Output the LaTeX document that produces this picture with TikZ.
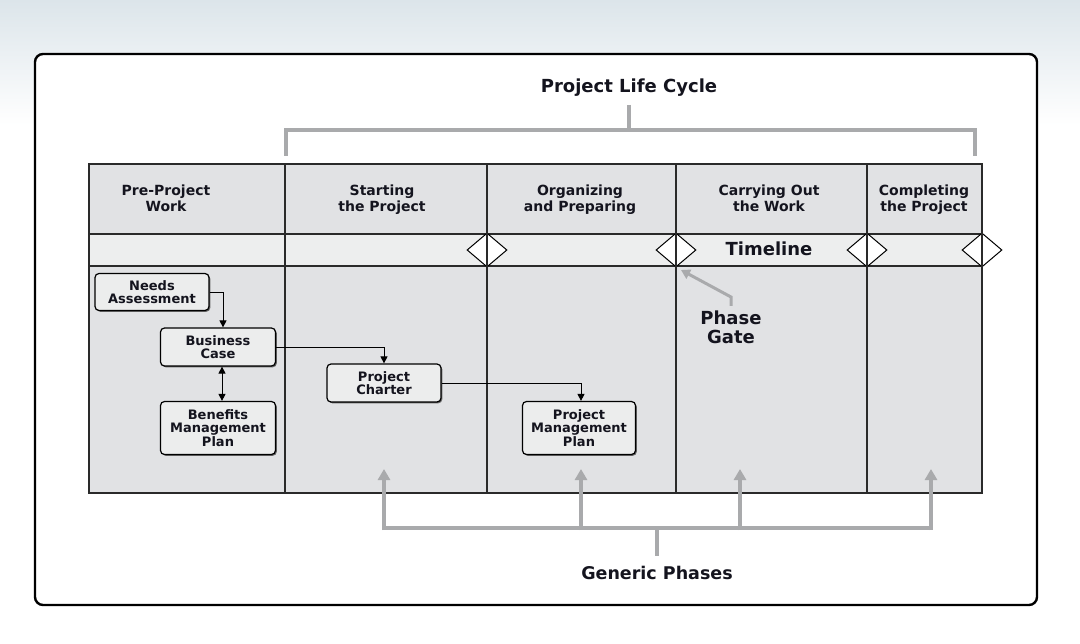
\documentclass[tikz,border=0pt]{standalone}
\usepackage{fontspec}
\setmainfont{DejaVu Sans}
\usetikzlibrary{arrows.meta,shadows,calc,shapes.geometric}
\definecolor{cell}{HTML}{E1E2E4}
\definecolor{band}{HTML}{EDEEEE}
\definecolor{boxfill}{HTML}{ECEDED}
\definecolor{guide}{HTML}{A9AAAC}
\definecolor{ink}{HTML}{14141E}
\definecolor{grid}{HTML}{2A2A2A}
\definecolor{sky}{HTML}{DCE5EA}
\begin{document}
\begin{tikzpicture}[x=1pt,y=-1pt,
  hdr/.style={font=\fontsize{14}{16}\selectfont\bfseries, align=center, text=ink, anchor=north, inner sep=0pt},
  big/.style={font=\fontsize{18}{19}\selectfont\bfseries, align=center, text=ink},
  box/.style={draw=black, line width=1.2pt, rounded corners=4pt, fill=boxfill,
    drop shadow={shadow xshift=1.3pt,shadow yshift=-1.3pt,fill=black!60,opacity=1},
    font=\fontsize{13}{13.5}\selectfont\bfseries, align=center, minimum width=114pt,
    inner sep=1pt, text=ink},
  conn/.style={-{Triangle[length=7pt,width=7pt]}, line width=0.9pt},
  dconn/.style={{Triangle[length=7pt,width=7pt]}-{Triangle[length=7pt,width=7pt]}, line width=0.9pt},
  guideline/.style={draw=guide, line width=4.5pt},
  guidearrow/.style={guideline, -{Triangle[length=11pt,width=12pt]}},
  gate/.style={diamond, draw=black, fill=white, minimum width=40pt, minimum height=34pt, inner sep=0pt, line width=1pt},
  gridline/.style={draw=grid, line width=1.1pt}
]
\useasboundingbox (0,0) rectangle (1080,644);
% background
\shade[top color=sky, bottom color=white] (0,0) rectangle (1080,125);
\fill[white] (0,125) rectangle (1080,644);
% frame
\draw[line width=2.4pt, rounded corners=8pt, fill=white] (35,54) rectangle (1037,605);

% title and bracket
\node[big] (title) at (629,88) {Project Life Cycle};
\coordinate (tl) at (286,156);
\coordinate (tr) at (975,156);
\coordinate (tm) at (629,105);
\draw[guideline] (tl) -- (286,130) -- (975,130) -- (tr);
\draw[guideline] (tm) -- (629,130);

% table
\fill[cell] (89,164) rectangle (982,493);
\fill[band] (89,234) rectangle (982,266);
\draw[gridline] (89,234) -- (982,234);
\draw[gridline] (89,266) -- (982,266);

% gates
\node[gate] (g1) at (487,250) {};
\node[gate] (g2) at (676,250) {};
\node[gate] (g3) at (867,250) {};
\node[gate] (g4) at (982,250) {};

\draw[gridline] (89,164) rectangle (982,493);
\foreach \x in {285,487,676,867} \draw[gridline] (\x,164) -- (\x,493);

% headers
\node[hdr] (h1) at (166,185) {Pre-Project\\Work};
\node[hdr] (h2) at (382,185) {Starting\\the Project};
\node[hdr] (h3) at (580,185) {Organizing\\and Preparing};
\node[hdr] (h4) at (769,185) {Carrying Out\\the Work};
\node[hdr] (h5) at (924,185) {Completing\\the Project};

\node[big] (tline) at (769,249) {Timeline};

% boxes
\node[box, minimum height=37pt] (na) at (152,292) {Needs\\Assessment};
\node[box, minimum height=38pt, minimum width=115pt] (bc) at (218,347) {Business\\Case};
\node[box, minimum height=53pt, minimum width=115pt] (bmp) at (218,428) {Benefits\\Management\\Plan};
\node[box, minimum height=38pt] (pc) at (384,383) {Project\\Charter};
\node[box, minimum height=53pt, minimum width=113pt] (pmp) at (579,428) {Project\\Management\\Plan};

\draw[conn] (na.east) -| ([xshift=5pt]bc.north);
\draw[conn] (bc.east) -| (pc.north);
\draw[conn] (pc.east) -| ([xshift=2pt]pmp.north);
\draw[dconn] ([xshift=4pt]bc.south) -- ([xshift=4pt]bmp.north);

% phase gate
\node[big] (pg) at (731,327) {Phase\\Gate};
\coordinate (pgtip) at (681,270);
\draw[draw=guide, line width=3pt, -{Triangle[length=9pt,width=10pt]}] (731,306) -- (731,297) -- (pgtip);

% generic phases
\node[big, font=\fontsize{17.5}{19}\selectfont\bfseries] (gp) at (657,573) {Generic Phases};
\coordinate (a1) at (384,469);
\coordinate (a2) at (581,469);
\coordinate (a3) at (740,469);
\coordinate (a4) at (931,469);
\draw[guideline] (384,528) -- (931,528);
\draw[guideline] (657,528) -- (657,556);
\foreach \c in {a1,a2,a3,a4} \draw[guidearrow] (\c |- 0,530) -- (\c);
\end{tikzpicture}
\end{document}
